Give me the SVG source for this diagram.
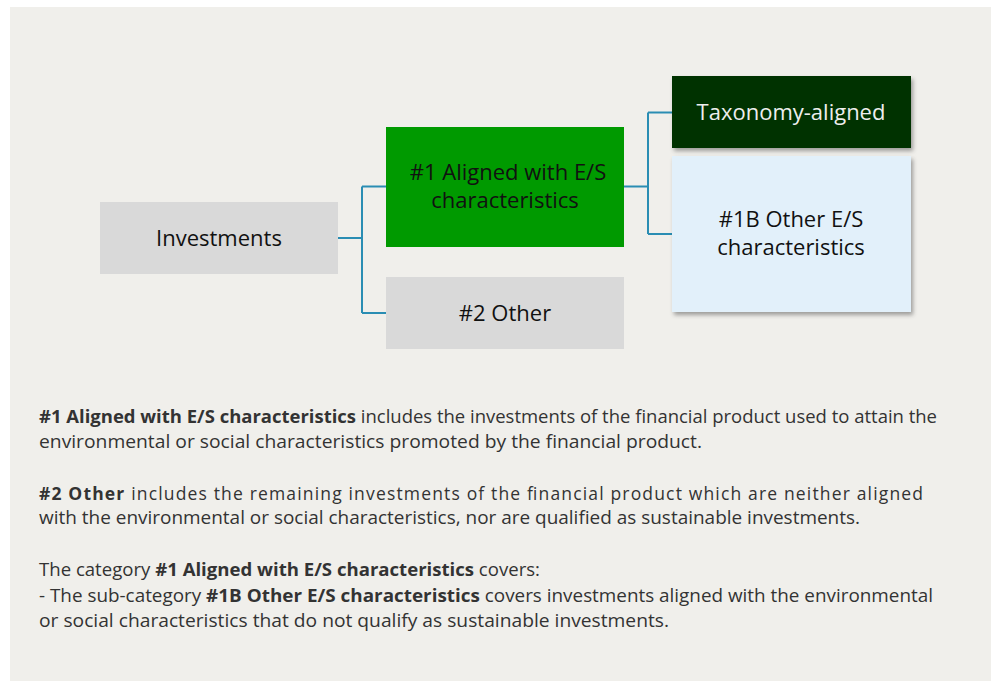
<svg xmlns="http://www.w3.org/2000/svg" width="991" height="681" viewBox="0 0 991 681">
  <defs>
    <filter id="shadow" x="-10%" y="-10%" width="125%" height="130%">
      <feDropShadow dx="2" dy="3" stdDeviation="2" flood-color="#000" flood-opacity="0.35"/>
    </filter>
    <style>
      .node-text { font-family: "Open Sans", "Noto Sans", sans-serif; font-size: 22px; fill: #111; text-anchor: middle; }
      .body { font-family: "Open Sans", "Noto Sans", sans-serif; font-size: 17.5px; fill: #333; }
      .b { font-weight: bold; }
      .conn { fill: none; stroke: #2a8db3; stroke-width: 2; }
    </style>
  </defs>
  <rect x="0" y="0" width="991" height="681" fill="#ffffff"/>
  <rect x="10" y="7" width="981" height="674" fill="#f0efeb"/>

  <g id="connectors">
    <path class="conn" d="M338 238 H362 M362 186.5 V313 M362 186.5 H386 M362 313 H386"/>
    <path class="conn" d="M624 186.5 H648 M648 112.5 V234 M648 112.5 H672 M648 234 H672"/>
  </g>

  <g id="investments">
    <rect x="100" y="202" width="238" height="72" fill="#d9d9d9"/>
    <text class="node-text" x="219" y="246">Investments</text>
  </g>
  <g id="aligned">
    <rect x="386" y="127" width="238" height="120" fill="#009a00"/>
    <text class="node-text" y="180"><tspan x="508">#1 Aligned with E/S</tspan><tspan x="505" dy="28">characteristics</tspan></text>
  </g>
  <g id="other">
    <rect x="386" y="277" width="238" height="72" fill="#d9d9d9"/>
    <text class="node-text" x="505" y="321">#2 Other</text>
  </g>
  <g id="taxonomy">
    <rect x="672" y="76" width="239" height="72" fill="#003300" filter="url(#shadow)"/>
    <text class="node-text" x="791" y="120" style="fill:#eeeeee">Taxonomy-aligned</text>
  </g>
  <g id="other-es">
    <rect x="672" y="156" width="239" height="156" fill="#e2f0fa" filter="url(#shadow)"/>
    <text class="node-text" y="227"><tspan x="791">#1B Other E/S</tspan><tspan x="791" dy="28">characteristics</tspan></text>
  </g>

  <g id="description">
    <text class="body" x="39" y="423" textLength="898" lengthAdjust="spacingAndGlyphs"><tspan class="b">#1 Aligned with E/S characteristics</tspan> includes the investments of the financial product used to attain the</text>
    <text class="body" x="39" y="448" textLength="663" lengthAdjust="spacingAndGlyphs">environmental or social characteristics promoted by the financial product.</text>
    <text class="body" x="39" y="500" textLength="884" lengthAdjust="spacing"><tspan class="b">#2 Other</tspan> includes the remaining investments of the financial product which are neither aligned</text>
    <text class="body" x="39" y="524" textLength="821" lengthAdjust="spacingAndGlyphs">with the environmental or social characteristics, nor are qualified as sustainable investments.</text>
    <text class="body" x="39" y="576" textLength="501" lengthAdjust="spacingAndGlyphs">The category <tspan class="b">#1 Aligned with E/S characteristics</tspan> covers:</text>
    <text class="body" x="39" y="602" textLength="894" lengthAdjust="spacingAndGlyphs">- The sub-category <tspan class="b">#1B Other E/S characteristics</tspan> covers investments aligned with the environmental</text>
    <text class="body" x="39" y="627" textLength="630" lengthAdjust="spacingAndGlyphs">or social characteristics that do not qualify as sustainable investments.</text>
  </g>
</svg>
